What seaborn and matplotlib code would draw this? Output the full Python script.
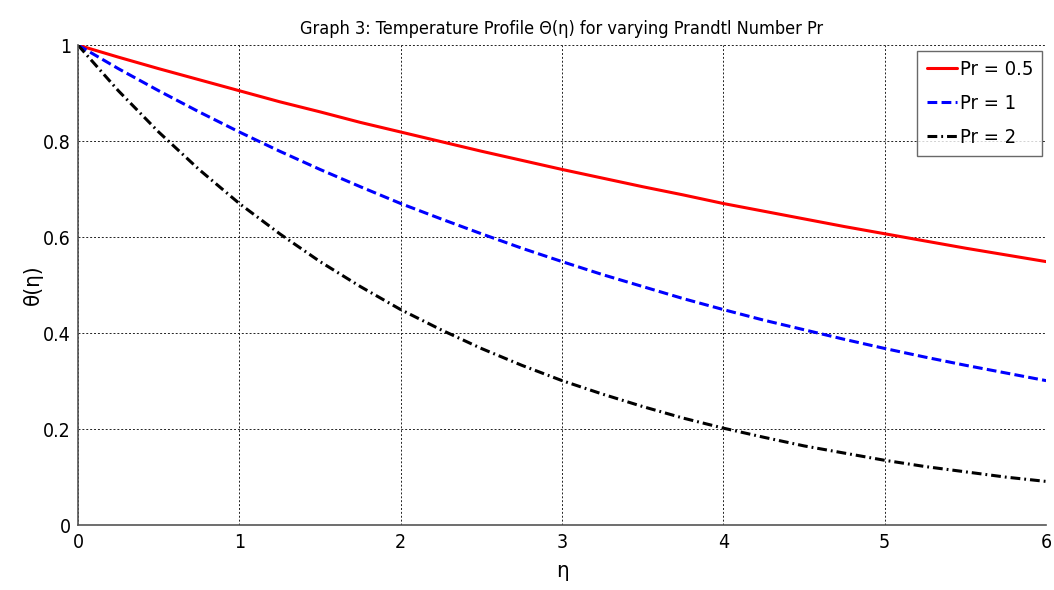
import matplotlib
matplotlib.use("Agg")
import matplotlib.pyplot as plt
import pandas as pd
import seaborn as sns

# eta grid and theta values
eta = [0.0, 0.25, 0.5, 0.75, 1.0, 1.25, 1.5, 1.75, 2.0, 2.25, 2.5, 2.75, 3.0,
       3.25, 3.5, 3.75, 4.0, 4.25, 4.5, 4.75, 5.0, 5.25, 5.5, 5.75, 6.0]
theta_pr05 = [1.0, 0.975, 0.951, 0.928, 0.905, 0.882, 0.861, 0.839, 0.819, 0.799, 0.779, 0.760, 0.741,
              0.723, 0.705, 0.688, 0.670, 0.654, 0.638, 0.622, 0.607, 0.592, 0.577, 0.563, 0.549]
theta_pr1 = [1.0, 0.951, 0.905, 0.861, 0.819, 0.779, 0.741, 0.705, 0.670, 0.638, 0.607, 0.577, 0.549,
             0.522, 0.497, 0.472, 0.449, 0.427, 0.407, 0.387, 0.368, 0.350, 0.333, 0.317, 0.301]
theta_pr2 = [1.0, 0.905, 0.819, 0.741, 0.670, 0.607, 0.549, 0.497, 0.449, 0.407, 0.368, 0.333, 0.301,
             0.273, 0.247, 0.223, 0.202, 0.183, 0.165, 0.150, 0.135, 0.122, 0.111, 0.100, 0.091]
labels = ['Pr = 0.5', 'Pr = 1', 'Pr = 2']
x_ticks = [0, 1, 2, 3, 4, 5, 6]
y_ticks = [0, 0.2, 0.4, 0.6, 0.8, 1]

df = pd.DataFrame({
    'eta': eta * 3,
    'theta': theta_pr05 + theta_pr1 + theta_pr2,
    'Pr': [labels[0]] * len(eta) + [labels[1]] * len(eta) + [labels[2]] * len(eta),
})

sns.set_style('white')
plt.rcParams['font.family'] = ['DejaVu Sans']
plt.rcParams['font.stretch'] = 'condensed'
plt.rcParams['text.color'] = 'black'
plt.rcParams['axes.labelcolor'] = 'black'
plt.rcParams['xtick.color'] = 'black'
plt.rcParams['ytick.color'] = 'black'

fig = plt.figure(figsize=(10.54, 5.9), dpi=100)
ax = fig.add_axes([0.074, 0.110, 0.9185, 0.8135])

sns.lineplot(data=df, x='eta', y='theta', hue='Pr', style='Pr',
             palette=['#ff0000', '#0000ff', '#000000'],
             dashes=[(None, None), (3.2, 1.4), (3.2, 1.3, 0.6, 1.3)],
             linewidth=2.2, ax=ax, legend=True)

ax.set_xlim(0, 6)
ax.set_ylim(0, 1)
ax.set_xticks(x_ticks)
ax.set_yticks(y_ticks)
ax.set_xticklabels([str(t) for t in x_ticks])
ax.set_yticklabels(['0', '0.2', '0.4', '0.6', '0.8', '1'])
ax.tick_params(direction='in', length=5, labelsize=14)
ax.tick_params(axis='x', pad=6)
ax.tick_params(axis='y', pad=5)
ax.tick_params(colors='#555555', labelcolor='black')
ax.grid(True, linestyle=(0, (2, 2)), color='#222222', linewidth=0.7)
for side in ['top', 'right']:
    ax.spines[side].set_visible(False)
for side in ['left', 'bottom']:
    ax.spines[side].set_color('#555555')
    ax.spines[side].set_linewidth(1.2)

ax.set_xlabel('η', fontsize=16, labelpad=6)
ax.set_ylabel('θ(η)', fontsize=16, labelpad=0)
ax.set_title('Graph 3: Temperature Profile Θ(η) for varying Prandtl Number Pr', fontsize=13, pad=8)

leg = ax.legend(loc='upper right', bbox_to_anchor=(0.996, 0.988), borderaxespad=0,
                fontsize=14.5, frameon=True, fancybox=False,
                edgecolor='#444444', handlelength=1.5, handletextpad=0.15,
                labelspacing=0.75, borderpad=0.45)
leg.get_frame().set_linewidth(1.0)

fig.savefig('out.png', dpi=100)
